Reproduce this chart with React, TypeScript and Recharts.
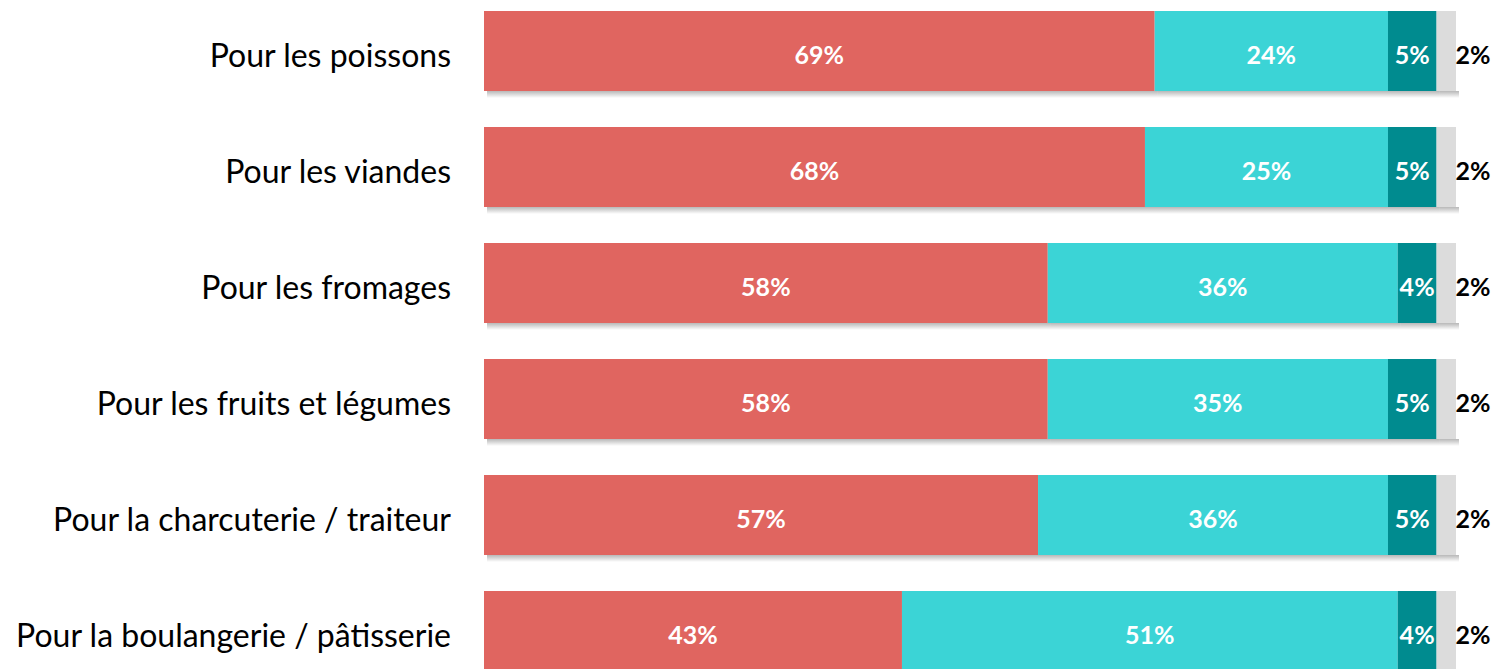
import React from 'react';
import { BarChart, Bar, XAxis, YAxis, LabelList } from 'recharts';

const categories = [
  'Pour les poissons',
  'Pour les viandes',
  'Pour les fromages',
  'Pour les fruits et légumes',
  'Pour la charcuterie / traiteur',
  'Pour la boulangerie / pâtisserie',
];
const seriesA = [69, 68, 58, 58, 57, 43];
const seriesB = [24, 25, 36, 35, 36, 51];
const seriesC = [5, 5, 4, 5, 5, 4];
const seriesD = [2, 2, 2, 2, 2, 2];

const data = categories.map((name, i) => ({
  name,
  a: seriesA[i],
  b: seriesB[i],
  c: seriesC[i],
  d: seriesD[i],
}));

const FONT = 'Lato, "Open Sans", sans-serif';

const ShadowBar = (props: any) => {
  const { x, y, width, height, fill } = props;
  if (width == null || width <= 0) return null;
  return (
    <g>
      <defs>
        <linearGradient id="barShadowGrad" x1="0" y1="0" x2="0" y2="1">
          <stop offset="0%" stopColor="#000" stopOpacity={0.28} />
          <stop offset="100%" stopColor="#000" stopOpacity={0} />
        </linearGradient>
      </defs>
      <rect x={x + 3} y={y + height} width={width} height={7} fill="url(#barShadowGrad)" />
      <rect x={x} y={y} width={width} height={height} fill={fill} />
    </g>
  );
};

const InsideLabel = (props: any) => {
  const { x, y, width, height, value } = props;
  return (
    <text
      x={x + width / 2}
      y={y + height / 2 + 3}
      textAnchor="middle"
      dominantBaseline="central"
      fill="#fff"
      fontFamily={FONT}
      fontWeight={700}
      fontSize={25}
    >
      {value}%
    </text>
  );
};

const OutsideLabel = (props: any) => {
  const { x, y, width, height, value } = props;
  return (
    <text
      x={x + width + 17}
      y={y + height / 2 + 3}
      textAnchor="middle"
      dominantBaseline="central"
      fill="#000"
      fontFamily={FONT}
      fontWeight={700}
      fontSize={25}
    >
      {value}%
    </text>
  );
};

const CategoryTick = (props: any) => {
  const { y, payload } = props;
  return (
    <text
      x={451}
      y={y + 3}
      textAnchor="end"
      dominantBaseline="central"
      fill="#000"
      fontFamily={FONT}
      fontSize={32}
    >
      {payload.value}
    </text>
  );
};

export default function App() {
  return (
    <div style={{ position: 'absolute', left: 0, top: -7 }}>
      <BarChart
        width={1497}
        height={696}
        data={data}
        layout="vertical"
        margin={{ top: 0, right: 41, bottom: 0, left: 0 }}
        barCategoryGap={18}
      >
        <XAxis type="number" domain={[0, 100]} hide />
        <YAxis
          type="category"
          dataKey="name"
          width={484}
          axisLine={false}
          tickLine={false}
          tick={<CategoryTick />}
          interval={0}
        />
        <Bar dataKey="a" stackId="s" fill="#E06560" shape={<ShadowBar />} isAnimationActive={false}>
          <LabelList dataKey="a" content={<InsideLabel />} />
        </Bar>
        <Bar dataKey="b" stackId="s" fill="#3BD4D6" shape={<ShadowBar />} isAnimationActive={false}>
          <LabelList dataKey="b" content={<InsideLabel />} />
        </Bar>
        <Bar dataKey="c" stackId="s" fill="#008B8F" shape={<ShadowBar />} isAnimationActive={false}>
          <LabelList dataKey="c" content={<InsideLabel />} />
        </Bar>
        <Bar dataKey="d" stackId="s" fill="#DCDCDC" shape={<ShadowBar />} isAnimationActive={false}>
          <LabelList dataKey="d" content={<OutsideLabel />} />
        </Bar>
      </BarChart>
    </div>
  );
}
